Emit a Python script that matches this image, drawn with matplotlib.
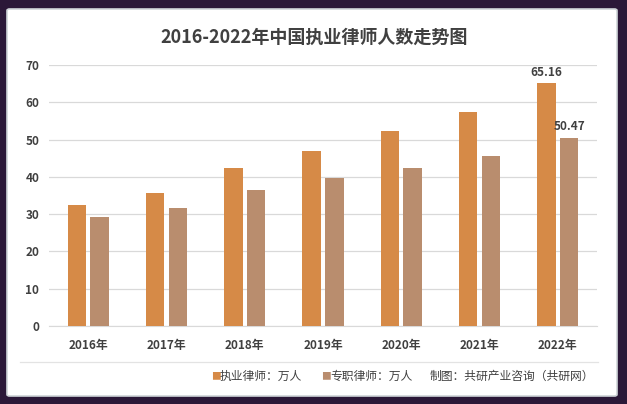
import matplotlib

matplotlib.use("Agg")
import matplotlib.pyplot as plt
import numpy as np
from matplotlib.patches import FancyBboxPatch

years = ["2016年", "2017年", "2018年", "2019年", "2020年", "2021年", "2022年"]
practicing = [32.5, 35.7, 42.3, 47.0, 52.2, 57.3, 65.16]
fulltime = [29.3, 31.6, 36.6, 39.6, 42.3, 45.7, 50.47]
title = "2016-2022年中国执业律师人数走势图"
legend_items = ["执业律师：万人", "专职律师：万人"]
source_note = "制图：共研产业咨询（共研网）"

ORANGE = "#D68A47"
TAN = "#B98D6E"
TEXT = "#404040"
W, H = 627, 404


def main() -> None:
    plt.rcParams["font.family"] = ["Noto Sans CJK SC", "DejaVu Sans"]
    fig = plt.figure(figsize=(W / 100, H / 100), dpi=100)
    fig.patch.set_facecolor("#2b1838")
    panel = FancyBboxPatch(
        (7 / W, 8 / H), 610 / W, 387 / H,
        boxstyle="round,pad=0,rounding_size=0.004",
        transform=fig.transFigure, facecolor="white", edgecolor="#cfd5d8", linewidth=1.2,
        zorder=-10,
    )
    fig.patches.append(panel)

    ax = fig.add_axes([49 / W, (H - 326) / H, 548 / W, 261 / H])
    ax.set_facecolor("none")
    x = np.arange(len(years))
    width = 0.235
    offset = 0.145
    ax.bar(x - offset, practicing, width, color=ORANGE, zorder=3)
    ax.bar(x + offset, fulltime, width, color=TAN, zorder=3)
    ax.set_xlim(-0.5, len(years) - 0.5)
    ax.set_ylim(0, 70)
    ax.set_yticks(range(0, 71, 10))
    ax.set_xticks(x, years)
    ax.yaxis.grid(True, color="#d9d9d9", linewidth=0.9, zorder=0)
    ax.tick_params(axis="both", length=0, colors=TEXT, labelsize=8.5)
    ax.tick_params(axis="x", pad=9)
    ax.tick_params(axis="y", pad=7)
    for lab in ax.get_xticklabels() + ax.get_yticklabels():
        lab.set_fontweight("bold")
    for name, spine in ax.spines.items():
        spine.set_visible(name == "bottom")
    ax.spines["bottom"].set_color("#d9d9d9")

    ax.text(x[-1] - offset, practicing[-1] + 1.2, f"{practicing[-1]:.2f}", ha="center",
            va="bottom", fontsize=8.5, fontweight="bold", color=TEXT)
    ax.text(x[-1] + offset, fulltime[-1] + 1.2, f"{fulltime[-1]:.2f}", ha="center",
            va="bottom", fontsize=8.5, fontweight="bold", color=TEXT)

    fig.text(314 / W, 1 - 37 / H, title, ha="center", va="center", fontsize=13,
             fontweight="bold", color=TEXT)

    fig.add_artist(plt.Line2D([20 / W, 598 / W], [1 - 362 / H] * 2, color="#e3e3e3",
                              linewidth=0.9, transform=fig.transFigure))
    ly = 1 - 376 / H
    fig.text(211 / W, ly, "■", color=ORANGE, fontsize=7, ha="left", va="center")
    fig.text(220 / W, ly, legend_items[0], color=TEXT, fontsize=8.5, ha="left", va="center")
    fig.text(321 / W, ly, "■", color=TAN, fontsize=7, ha="left", va="center")
    fig.text(330 / W, ly, legend_items[1], color=TEXT, fontsize=8.5, ha="left", va="center")
    fig.text(594 / W, ly, source_note, color=TEXT, fontsize=8.5, ha="right", va="center")

    fig.savefig("out.png", dpi=100, facecolor=fig.get_facecolor())
    plt.close(fig)


if __name__ == "__main__":
    main()
